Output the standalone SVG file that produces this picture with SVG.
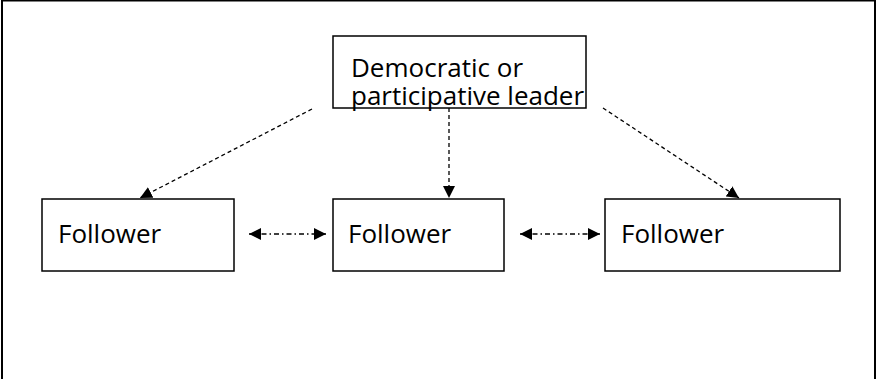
<svg xmlns="http://www.w3.org/2000/svg" width="877" height="379" viewBox="0 0 877 379">
<style>
.box{fill:#fff;stroke:#000;stroke-width:1.5}
.lbl{font-family:"Open Sans","Noto Sans",sans-serif;font-size:26px;fill:#000}
.dash{fill:none;stroke:#000;stroke-width:1.3;stroke-dasharray:4 3}
.dd{fill:none;stroke:#000;stroke-width:1.3;stroke-dasharray:5 3 1.5 3}
</style>
<defs>
<marker id="ah" viewBox="0 0 10 10" refX="10" refY="5" markerWidth="12" markerHeight="12" markerUnits="userSpaceOnUse" orient="auto-start-reverse">
<path d="M0,0 L10,5 L0,10 z" fill="#000"/>
</marker>
</defs>
<rect x="2" y="0.5" width="873" height="390" fill="#fff" stroke="#000" stroke-width="2"/>
<g id="connectors">
<line class="dash" x1="312" y1="109" x2="140" y2="198" marker-end="url(#ah)"/>
<line class="dash" x1="449" y1="108" x2="449" y2="198" marker-end="url(#ah)"/>
<line class="dash" x1="603" y1="108" x2="739" y2="198" marker-end="url(#ah)"/>
<line class="dd" x1="249" y1="234" x2="326" y2="234" marker-start="url(#ah)" marker-end="url(#ah)"/>
<line class="dd" x1="520" y1="234" x2="600" y2="234" marker-start="url(#ah)" marker-end="url(#ah)"/>
</g>
<g id="leader">
<rect class="box" x="333" y="36" width="253" height="72"/>
<text class="lbl" x="351" y="77">Democratic or</text>
<text class="lbl" x="351" y="105">participative leader</text>
</g>
<g id="follower1">
<rect class="box" x="42" y="199" width="192" height="72"/>
<text class="lbl" x="58" y="243">Follower</text>
</g>
<g id="follower2">
<rect class="box" x="333" y="199" width="171" height="72"/>
<text class="lbl" x="348" y="243">Follower</text>
</g>
<g id="follower3">
<rect class="box" x="605" y="199" width="235" height="72"/>
<text class="lbl" x="621" y="243">Follower</text>
</g>
</svg>
